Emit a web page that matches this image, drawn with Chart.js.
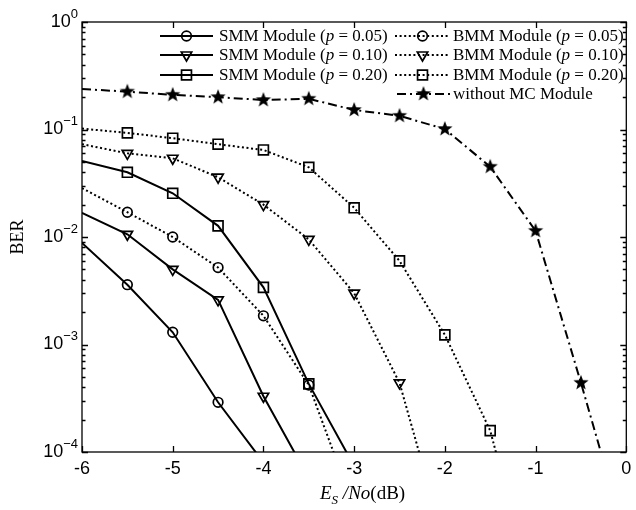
<!DOCTYPE html>
<html>
<head>
<meta charset="utf-8">
<script src="https://cdn.jsdelivr.net/npm/chart.js@4.4.1/dist/chart.umd.min.js"></script>
<style>
  html, body { margin: 0; padding: 0; background: #fff; }
</style>
</head>
<body>
<canvas id="ber" width="636" height="510"></canvas>
<script>
// Es/No in dB, one entry every 0.5 dB
const snr = [-6, -5.5, -5, -4.5, -4, -3.5, -3, -2.5, -2, -1.5, -1, -0.5, 0];

// BER curves (starting at -6 dB)
const smm005 = [8.8e-3, 3.6e-3, 1.3e-3, 2.9e-4, 8e-5];
const smm010 = [1.68e-2, 1.06e-2, 5.0e-3, 2.6e-3, 3.3e-4, 5.7e-5];
const smm020 = [5.1e-2, 4.0e-2, 2.55e-2, 1.27e-2, 3.4e-3, 4.3e-4, 7.4e-5];
const bmm005 = [2.85e-2, 1.7e-2, 1.0e-2, 5.2e-3, 1.85e-3, 4.2e-4, 3e-5];
const bmm010 = [7.3e-2, 6.0e-2, 5.4e-2, 3.6e-2, 2.0e-2, 9.5e-3, 3.0e-3, 4.4e-4, 1.4e-5];
const bmm020 = [0.102, 0.093, 0.083, 0.073, 0.0645, 0.0445, 0.0187, 6.0e-3, 1.23e-3, 1.58e-4, 4e-6];
const noMC   = [0.238, 0.225, 0.21, 0.2, 0.188, 0.193, 0.152, 0.134, 0.101, 0.045, 0.0114, 4.4e-4, 1.5e-5];

const xTicks = [-6, -5, -4, -3, -2, -1, 0];
const yDecades = [0, -1, -2, -3, -4];

const SERIF = '"Liberation Serif", "Times New Roman", serif';
const SANS = '"Liberation Sans", Arial, sans-serif';

// filled five-point star used as marker
function makeStar(r) {
  const s = Math.ceil(r * 2) + 2;
  const c = document.createElement('canvas');
  c.width = s; c.height = s;
  const g = c.getContext('2d');
  g.beginPath();
  for (let i = 0; i < 10; i++) {
    const a = -Math.PI / 2 + i * Math.PI / 5;
    const rr = i % 2 ? r * 0.42 : r;
    const px = s / 2 + Math.cos(a) * rr, py = s / 2 + Math.sin(a) * rr;
    i ? g.lineTo(px, py) : g.moveTo(px, py);
  }
  g.closePath();
  g.fillStyle = '#000';
  g.fill();
  return c;
}
const star = makeStar(8);

function pts(vals) {
  return vals.map((v, i) => ({ x: snr[i], y: v }));
}

function series(label, vals, style, dash) {
  const rot = style === 'triangle' ? 180 : 0;
  const r = style === 'rect' ? 7 : style === 'triangle' ? 6 : style === 'circle' ? 4.8 : 8;
  return {
    label: label,
    data: pts(vals),
    borderColor: '#000',
    backgroundColor: 'rgba(0,0,0,0)',
    borderWidth: 2,
    borderDash: dash,
    pointStyle: style,
    pointRotation: rot,
    pointBorderWidth: 1.7,
    pointBorderColor: '#000',
    pointBackgroundColor: 'rgba(0,0,0,0)',
    pointRadius: vals.map((v, i) => (i === 0 ? 0 : r)),
    pointHoverRadius: 0,
    tension: 0,
    fill: false
  };
}

const DOT = [2, 2.6];
const DASHDOT = [9, 4, 2, 4];

const datasets = [
  series('SMM Module (p = 0.05)', smm005, 'circle', []),
  series('SMM Module (p = 0.10)', smm010, 'triangle', []),
  series('SMM Module (p = 0.20)', smm020, 'rect', []),
  series('BMM Module (p = 0.05)', bmm005, 'circle', DOT),
  series('BMM Module (p = 0.10)', bmm010, 'triangle', DOT),
  series('BMM Module (p = 0.20)', bmm020, 'rect', DOT),
  series('without MC Module', noMC, star, DASHDOT)
];

function marker(ctx, ds, x, y) {
  const r = ds.pointRadius[1];
  if (Chart.helpers && Chart.helpers.drawPoint) {
    ctx.save();
    ctx.setLineDash([]);
    ctx.lineWidth = ds.pointBorderWidth;
    ctx.strokeStyle = '#000';
    ctx.fillStyle = 'rgba(0,0,0,0)';
    Chart.helpers.drawPoint(ctx, { pointStyle: ds.pointStyle, rotation: ds.pointRotation, radius: r, borderWidth: ds.pointBorderWidth }, x, y);
    ctx.restore();
  }
}

// axes frame, inward ticks, labels, titles and the two-column legend
const paperAxes = {
  id: 'paperAxes',
  afterDatasetsDraw(chart) {
    const ctx = chart.ctx;
    const a = chart.chartArea;
    const xs = chart.scales.x, ys = chart.scales.y;
    ctx.save();
    ctx.strokeStyle = '#000';
    ctx.fillStyle = '#000';
    ctx.lineWidth = 1.3;
    ctx.setLineDash([]);
    ctx.strokeRect(a.left, a.top, a.right - a.left, a.bottom - a.top);

    // x ticks
    ctx.beginPath();
    xTicks.forEach(t => {
      const px = Math.round(xs.getPixelForValue(t)) + 0.5;
      ctx.moveTo(px, a.bottom); ctx.lineTo(px, a.bottom - 6);
      ctx.moveTo(px, a.top); ctx.lineTo(px, a.top + 6);
    });
    // y ticks, major + minor
    yDecades.forEach(d => {
      for (let m = 1; m <= 9; m++) {
        const v = m * Math.pow(10, d);
        if (v > 1 || v < 1e-4) continue;
        const py = Math.round(ys.getPixelForValue(v)) + 0.5;
        const len = m === 1 ? 6 : 3.5;
        ctx.moveTo(a.left, py); ctx.lineTo(a.left + len, py);
        ctx.moveTo(a.right, py); ctx.lineTo(a.right - len, py);
      }
    });
    ctx.stroke();

    // x tick labels
    ctx.font = '18px ' + SANS;
    ctx.textAlign = 'center';
    ctx.textBaseline = 'middle';
    xTicks.forEach(t => ctx.fillText(String(t), xs.getPixelForValue(t), a.bottom + 17));

    // y tick labels 10^d
    ctx.textBaseline = 'middle';
    yDecades.forEach(d => {
      const py = ys.getPixelForValue(Math.pow(10, d));
      const ex = d === 0 ? '0' : '\u2212' + (-d);
      ctx.font = '13px ' + SANS;
      const ew = ctx.measureText(ex).width;
      ctx.textAlign = 'left';
      const right = a.left - 4;
      ctx.fillText(ex, right - ew, py - 8);
      ctx.font = '18px ' + SANS;
      ctx.textAlign = 'right';
      ctx.fillText('10', right - ew, py);
    });

    // y title
    ctx.save();
    ctx.translate(18, (a.top + a.bottom) / 2);
    ctx.rotate(-Math.PI / 2);
    ctx.font = '18px ' + SERIF;
    ctx.textAlign = 'center';
    ctx.fillText('BER', 0, 0);
    ctx.restore();

    // x title: E_S /No(dB)
    const parts = [
      { t: 'E', f: 'italic 19px ' + SERIF, dy: 0 },
      { t: 'S', f: 'italic 13px ' + SERIF, dy: 5 },
      { t: ' /No', f: 'italic 19px ' + SERIF, dy: 0 },
      { t: '(dB)', f: '19px ' + SERIF, dy: 0 }
    ];
    ctx.textAlign = 'left';
    ctx.textBaseline = 'alphabetic';
    let tx = 320;
    parts.forEach(p => {
      ctx.font = p.f;
      ctx.fillText(p.t, tx, 499 + p.dy);
      tx += ctx.measureText(p.t).width;
    });

    // legend
    const rows = [36, 55, 75, 94];
    const cols = [{ x0: 160, x1: 213, tx: 219 }, { x0: 395, x1: 450, tx: 453 }];
    const place = [[0, 0], [0, 1], [0, 2], [1, 0], [1, 1], [1, 2], [1, 3]];
    chart.data.datasets.forEach((ds, i) => {
      const c = cols[place[i][0]];
      const y = rows[place[i][1]];
      let x0 = c.x0;
      if (i === 6) x0 = c.x0 + 2;
      ctx.save();
      ctx.lineWidth = ds.borderWidth;
      ctx.setLineDash(ds.borderDash);
      ctx.beginPath();
      ctx.moveTo(x0, y); ctx.lineTo(c.x1, y);
      ctx.stroke();
      ctx.restore();
      const mx = (x0 + c.x1) / 2;
      if (ds.pointStyle === star) {
        ctx.drawImage(star, mx - star.width / 2, y - star.height / 2);
      } else {
        marker(ctx, ds, mx, y);
      }
      const m = ds.label.match(/^(.*\()p( = .*)$/);
      const segs = m ? [[m[1], ''], ['p', 'italic '], [m[2], '']] : [[ds.label, '']];
      let lx = c.tx;
      ctx.textAlign = 'left';
      ctx.textBaseline = 'middle';
      segs.forEach(s => {
        ctx.font = s[1] + '17px ' + SERIF;
        ctx.fillText(s[0], lx, y + 1);
        lx += ctx.measureText(s[0]).width;
      });
    });
    ctx.restore();
  }
};

new Chart(document.getElementById('ber'), {
  type: 'line',
  data: { datasets: datasets },
  options: {
    responsive: false,
    animation: false,
    layout: { padding: { left: 82, right: 8, top: 22, bottom: 58 } },
    plugins: { legend: { display: false }, tooltip: { enabled: false } },
    scales: {
      x: { type: 'linear', min: -6, max: 0, display: false },
      y: { type: 'logarithmic', min: 1e-4, max: 1, display: false }
    }
  },
  plugins: [paperAxes]
});
</script>
</body>
</html>
